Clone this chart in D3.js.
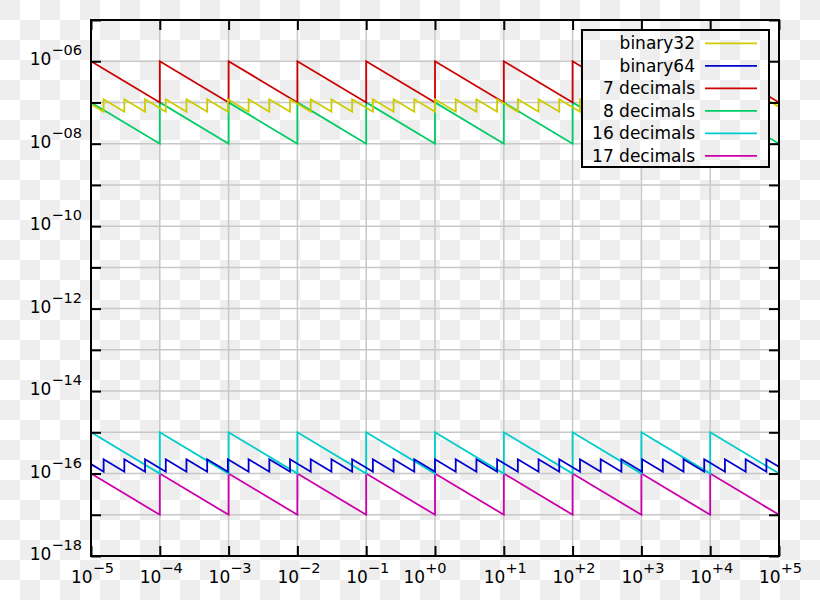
<!DOCTYPE html>
<html>
<head>
<meta charset="utf-8">
<script src="https://cdn.jsdelivr.net/npm/d3@7"></script>
<style>
  html, body { margin: 0; padding: 0; background: #fff; }
  svg { display: block; font-family: "DejaVu Sans", sans-serif; }
</style>
</head>
<body>
<svg id="chart" width="820" height="600"></svg>
<script>
// ---- data ----
const xDecades = [1e-5, 1e-4, 1e-3, 1e-2, 1e-1, 1e0, 1e1, 1e2, 1e3, 1e4, 1e5];
const xTickLabels = ["−5", "−4", "−3", "−2", "−1", "+0", "+1", "+2", "+3", "+4", "+5"];
const yDecades = [1e-18, 1e-17, 1e-16, 1e-15, 1e-14, 1e-13, 1e-12, 1e-11, 1e-10, 1e-9, 1e-8, 1e-7, 1e-6, 1e-5];
const yLabelValues = [1e-6, 1e-8, 1e-10, 1e-12, 1e-14, 1e-16, 1e-18];
const yTickLabels = ["−06", "−08", "−10", "−12", "−14", "−16", "−18"];

// jumps of the binary formats (powers of two inside the range)
const binaryJumps = [1.526e-5, 3.052e-5, 6.104e-5, 1.221e-4, 2.441e-4, 4.883e-4, 9.766e-4,
  1.953e-3, 3.906e-3, 7.813e-3, 1.5625e-2, 3.125e-2, 6.25e-2, 0.125, 0.25, 0.5, 1,
  2, 4, 8, 16, 32, 64, 128, 256, 512, 1024, 2048, 4096, 8192, 16384, 32768, 65536];
// jumps of the decimal formats
const decimalJumps = [1e-4, 1e-3, 1e-2, 1e-1, 1e0, 1e1, 1e2, 1e3, 1e4];

const seriesNames = ["binary32", "binary64", "7 decimals", "8 decimals", "16 decimals", "17 decimals"];
const seriesColors = ["#cccc00", "#0000cc", "#cc0000", "#00cc66", "#00cccc", "#cc00aa"];
const seriesKind = ["binary", "binary", "decimal", "decimal", "decimal", "decimal"];
// value at the left edge, high after a jump, low before a jump, value at the right edge
const seriesStart = [9.09e-8, 1.69e-16, 1e-6, 1e-7, 1e-15, 1e-16];
const seriesHigh  = [1.192e-7, 2.22e-16, 1e-6, 1e-7, 1e-15, 1e-16];
const seriesLow   = [5.96e-8, 1.11e-16, 1e-7, 1e-8, 1e-16, 1e-17];
const seriesEnd   = [7.81e-8, 1.455e-16, 1e-7, 1e-8, 1e-16, 1e-17];

// ---- layout ----
const svg = d3.select("#chart");
const L = 91, R = 779, T = 20, B = 556;
const x = d3.scaleLog().domain([1e-5, 1e5]).range([L, R]);
const y = d3.scaleLog().domain([1e-18, 1e-5]).range([B, T]);

// checkerboard background (transparent image look)
const defs = svg.append("defs");
const pat = defs.append("pattern").attr("id", "checker")
  .attr("patternUnits", "userSpaceOnUse").attr("x", 0).attr("y", 0)
  .attr("width", 40).attr("height", 40);
pat.append("rect").attr("width", 40).attr("height", 40).attr("fill", "#ffffff");
pat.append("rect").attr("x", 0).attr("y", 0).attr("width", 20).attr("height", 20).attr("fill", "#eeeeee");
pat.append("rect").attr("x", 20).attr("y", 20).attr("width", 20).attr("height", 20).attr("fill", "#eeeeee");
svg.append("rect").attr("width", 820).attr("height", 600).attr("fill", "url(#checker)");

defs.append("clipPath").attr("id", "plotclip")
  .append("rect").attr("x", L).attr("y", T).attr("width", R - L).attr("height", B - T);

// grid
const grid = svg.append("g").attr("stroke", "#c8c8c8").attr("stroke-width", 1.5);
grid.selectAll("line.vx").data(xDecades.slice(1, -1)).enter().append("line")
  .attr("x1", d => x(d)).attr("x2", d => x(d)).attr("y1", T).attr("y2", B);
grid.selectAll("line.hy").data(yDecades.slice(1, -1)).enter().append("line")
  .attr("y1", d => y(d)).attr("y2", d => y(d)).attr("x1", L).attr("x2", R);

// series
function vertices(i) {
  const jumps = seriesKind[i] === "binary" ? binaryJumps : decimalJumps;
  const pts = [[1e-5, seriesStart[i]]];
  jumps.forEach(j => { pts.push([j, seriesLow[i]]); pts.push([j, seriesHigh[i]]); });
  pts.push([1e5, seriesEnd[i]]);
  return pts;
}
const line = d3.line().x(d => x(d[0])).y(d => y(d[1]));
const plot = svg.append("g").attr("clip-path", "url(#plotclip)");
[5, 4, 3, 2, 1, 0].forEach(i => {
  plot.append("path").attr("d", line(vertices(i)))
    .attr("fill", "none").attr("stroke", seriesColors[i]).attr("stroke-width", 1.8)
    .attr("stroke-linejoin", "miter");
});

// ticks (inward, all sides)
const tickLen = 10;
const axG = svg.append("g");
axG.append("g").attr("transform", `translate(0,${B})`)
  .call(d3.axisBottom(x).tickValues(xDecades).tickSize(-tickLen).tickFormat(""));
axG.append("g").attr("transform", `translate(0,${T})`)
  .call(d3.axisTop(x).tickValues(xDecades).tickSize(-tickLen).tickFormat(""));
axG.append("g").attr("transform", `translate(${L},0)`)
  .call(d3.axisLeft(y).tickValues(yDecades).tickSize(-tickLen).tickFormat(""));
axG.append("g").attr("transform", `translate(${R},0)`)
  .call(d3.axisRight(y).tickValues(yDecades).tickSize(-tickLen).tickFormat(""));
axG.selectAll(".domain").remove();
axG.selectAll(".tick line").attr("stroke", "#000").attr("stroke-width", 2);

// frame
svg.append("rect").attr("x", L).attr("y", T).attr("width", R - L).attr("height", B - T)
  .attr("fill", "none").attr("stroke", "#000").attr("stroke-width", 2);

// x labels
xDecades.forEach((d, i) => {
  const cx = x(d) + (xTickLabels[i] === "+0" ? -10 : 1.5);
  const t = svg.append("text").attr("x", cx).attr("y", 583)
    .attr("text-anchor", "middle").attr("font-size", 17).attr("fill", "#000");
  t.append("tspan").text("10");
  t.append("tspan").attr("dy", -10.5).attr("font-size", 14.5).text(xTickLabels[i]);
});
// y labels
yLabelValues.forEach((d, i) => {
  const t = svg.append("text").attr("x", 82).attr("y", y(d) + 4)
    .attr("text-anchor", "end").attr("font-size", 17).attr("fill", "#000");
  t.append("tspan").text("10");
  t.append("tspan").attr("dy", -10).attr("font-size", 14.5).text(yTickLabels[i]);
});

// legend
const lg = svg.append("g");
lg.append("rect").attr("x", 582).attr("y", 30).attr("width", 187).attr("height", 137)
  .attr("fill", "url(#checker)").attr("stroke", "#000").attr("stroke-width", 2);
seriesNames.forEach((name, i) => {
  const ry = 43.3 + i * 22.5;
  lg.append("text").attr("x", 695).attr("y", ry + 6).attr("text-anchor", "end")
    .attr("font-size", 17).attr("fill", "#000").text(name);
  lg.append("line").attr("x1", 705).attr("x2", 757).attr("y1", ry).attr("y2", ry)
    .attr("stroke", seriesColors[i]).attr("stroke-width", 1.8);
});
</script>
</body>
</html>
